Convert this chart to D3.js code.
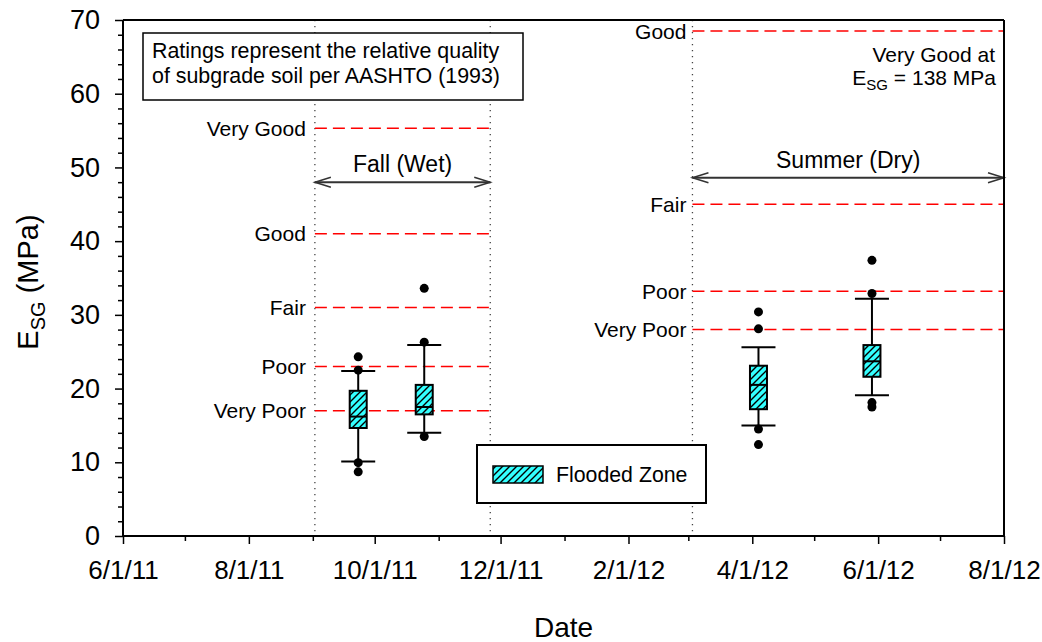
<!DOCTYPE html>
<html>
<head>
<meta charset="utf-8">
<script src="https://cdn.jsdelivr.net/npm/d3@7/dist/d3.min.js"></script>
<style>
  html, body { margin: 0; padding: 0; background: #fff; }
  svg { display: block; font-family: "Liberation Sans", Arial, sans-serif; }
</style>
</head>
<body>
<svg id="chart" width="1042" height="642"></svg>
<script>
// ---------------- data ----------------
const boxDates   = ["2011-09-23", "2011-10-25", "2012-04-04", "2012-05-29"];
const boxLow     = [10.1, 14.0, 15.0, 19.1];   // lower whisker
const boxQ1      = [14.65, 16.5, 17.2, 21.6];
const boxMedian  = [16.2, 17.5, 20.5, 23.7];
const boxQ3      = [19.7, 20.5, 23.1, 25.9];
const boxHigh    = [22.4, 25.9, 25.6, 32.2];   // upper whisker
const boxOutliers = [
  [24.3, 22.5, 9.95, 8.7],
  [33.6, 26.3, 13.5],
  [30.4, 28.1, 14.5, 12.4],
  [37.4, 32.9, 18.1, 17.5]
];

const seasonNames  = ["Fall (Wet)", "Summer (Dry)"];
const seasonStart  = ["2011-09-02", "2012-03-03"];
const seasonEnd    = ["2011-11-26", "2012-08-01"];
const seasonArrowY = [48.0, 48.6];

const fallRatings    = ["Very Good", "Good", "Fair", "Poor", "Very Poor"];
const fallValues     = [55.3, 41.0, 31.0, 23.0, 17.0];
const summerRatings  = ["Good", "Fair", "Poor", "Very Poor"];
const summerValues   = [68.5, 45.0, 33.2, 28.0];

const xDomain     = ["2011-06-01", "2012-08-01"];
const yMax        = 70;
const yMajorTicks = [0, 10, 20, 30, 40, 50, 60, 70];
const xTickLabels = ["6/1/11", "8/1/11", "10/1/11", "12/1/11", "2/1/12", "4/1/12", "6/1/12", "8/1/12"];

const noteLines   = ["Ratings represent the relative quality", "of subgrade soil per AASHTO (1993)"];
const legendLabel = "Flooded Zone";

// ---------------- layout ----------------
const W = 1042, H = 642;
const M = { left: 123, right: 38, top: 20, bottom: 106 };
const pw = W - M.left - M.right, ph = H - M.top - M.bottom;
const parse = d3.utcParse("%Y-%m-%d");
const FONT = "Liberation Sans, Arial, sans-serif";

const svg = d3.select("#chart");
const defs = svg.append("defs");
const pat = defs.append("pattern").attr("id", "hatch")
  .attr("patternUnits", "userSpaceOnUse").attr("width", 7).attr("height", 7);
pat.append("rect").attr("width", 7).attr("height", 7).attr("fill", "#33FFFF");
pat.append("path").attr("d", "M-1,1 l2,-2 M0,7 l7,-7 M6,8 l2,-2")
  .attr("stroke", "#000").attr("stroke-width", 1.4);

const g = svg.append("g").attr("transform", `translate(${M.left},${M.top})`);

const x = d3.scaleUtc().domain(xDomain.map(parse)).range([0, pw]);
const y = d3.scaleLinear().domain([0, yMax]).range([ph, 0]);

// ---------------- season dotted lines ----------------
const vlines = [seasonStart[0], seasonEnd[0], seasonStart[1]];
g.selectAll(".vl").data(vlines).join("line")
  .attr("x1", d => x(parse(d))).attr("x2", d => x(parse(d)))
  .attr("y1", 0).attr("y2", ph)
  .attr("stroke", "#444").attr("stroke-width", 1.3).attr("stroke-dasharray", "1.3,4.7");

// ---------------- rating lines ----------------
function ratings(names, vals, s, e, gap) {
  const x0 = x(parse(s)), x1 = x(parse(e));
  names.forEach((n, i) => {
    g.append("line").attr("x1", x0).attr("x2", x1)
      .attr("y1", y(vals[i])).attr("y2", y(vals[i]))
      .attr("stroke", "#FF0000").attr("stroke-width", 1.5).attr("stroke-dasharray", "12,6");
    g.append("text").attr("x", x0 - gap).attr("y", y(vals[i])).attr("dy", "0.36em")
      .attr("text-anchor", "end").attr("font-size", 21).attr("fill", "#000").text(n);
  });
}
ratings(fallRatings, fallValues, seasonStart[0], seasonEnd[0], 9);
ratings(summerRatings, summerValues, seasonStart[1], seasonEnd[1], 6);

// ---------------- season arrows ----------------
seasonNames.forEach((n, i) => {
  const x0 = x(parse(seasonStart[i])), x1 = x(parse(seasonEnd[i])), yy = y(seasonArrowY[i]);
  g.append("line").attr("x1", x0).attr("x2", x1).attr("y1", yy).attr("y2", yy)
    .attr("stroke", "#333").attr("stroke-width", 2);
  g.append("path").attr("d", `M${x0 + 16},${yy - 5} L${x0},${yy} L${x0 + 16},${yy + 5}`)
    .attr("fill", "none").attr("stroke", "#333").attr("stroke-width", 1.5);
  g.append("path").attr("d", `M${x1 - 16},${yy - 5} L${x1},${yy} L${x1 - 16},${yy + 5}`)
    .attr("fill", "none").attr("stroke", "#333").attr("stroke-width", 1.5);
  g.append("text").attr("x", (x0 + x1) / 2).attr("y", yy - 10)
    .attr("text-anchor", "middle").attr("font-size", 23).text(n);
});

// ---------------- box plots ----------------
const bw = 17, cw = 34;
boxDates.forEach((d, i) => {
  const cx = x(parse(d));
  g.append("line").attr("x1", cx).attr("x2", cx).attr("y1", y(boxLow[i])).attr("y2", y(boxHigh[i]))
    .attr("stroke", "#000").attr("stroke-width", 2);
  [boxLow[i], boxHigh[i]].forEach(v => {
    g.append("line").attr("x1", cx - cw / 2).attr("x2", cx + cw / 2).attr("y1", y(v)).attr("y2", y(v))
      .attr("stroke", "#000").attr("stroke-width", 2);
  });
  g.append("rect").attr("x", cx - bw / 2).attr("y", y(boxQ3[i]))
    .attr("width", bw).attr("height", y(boxQ1[i]) - y(boxQ3[i]))
    .attr("fill", "url(#hatch)").attr("stroke", "#000").attr("stroke-width", 2);
  g.append("line").attr("x1", cx - bw / 2).attr("x2", cx + bw / 2)
    .attr("y1", y(boxMedian[i])).attr("y2", y(boxMedian[i]))
    .attr("stroke", "#000").attr("stroke-width", 2);
  g.selectAll(null).data(boxOutliers[i]).join("circle")
    .attr("cx", cx).attr("cy", v => y(v)).attr("r", 4.5).attr("fill", "#000");
});

// ---------------- note box ----------------
g.append("rect").attr("x", 143 - M.left).attr("y", 33 - M.top).attr("width", 380).attr("height", 67)
  .attr("fill", "#fff").attr("stroke", "#000").attr("stroke-width", 1.5);
noteLines.forEach((t, i) => {
  g.append("text").attr("x", 152 - M.left).attr("y", 58 - M.top + i * 25)
    .attr("font-size", 21.4).text(t);
});

// ---------------- very good note ----------------
g.append("text").attr("text-anchor", "end").attr("font-size", 21)
  .attr("x", 995 - M.left).attr("y", 62 - M.top).text("Very Good at");
const l2 = g.append("text").attr("text-anchor", "end").attr("font-size", 21)
  .attr("x", 996 - M.left).attr("y", 85 - M.top);
l2.append("tspan").text("E");
l2.append("tspan").attr("font-size", 15).attr("dy", 5).text("SG");
l2.append("tspan").attr("dy", -5).text(" = 138 MPa");

// ---------------- legend ----------------
g.append("rect").attr("x", 477 - M.left).attr("y", 445 - M.top).attr("width", 229).attr("height", 58)
  .attr("fill", "#fff").attr("stroke", "#000").attr("stroke-width", 2);
g.append("rect").attr("x", 493 - M.left).attr("y", 466 - M.top).attr("width", 50).attr("height", 17)
  .attr("fill", "url(#hatch)").attr("stroke", "#000").attr("stroke-width", 1.5);
g.append("text").attr("x", 556 - M.left).attr("y", 482 - M.top).attr("font-size", 21.3).text(legendLabel);

// ---------------- axes ----------------
const yMinor = d3.range(0, yMax + 0.01, 2).filter(v => v % 10 !== 0);
g.append("g").call(d3.axisLeft(y).tickValues(yMinor).tickSize(5).tickFormat(""))
  .call(a => a.select(".domain").remove())
  .selectAll("line").attr("stroke-width", 1.5);
const ya = g.append("g").call(d3.axisLeft(y).tickValues(yMajorTicks).tickSize(8).tickPadding(15).tickFormat(d3.format("d")));
ya.select(".domain").attr("stroke-width", 2).attr("d", `M0,${ph}V0`);
ya.selectAll("line").attr("stroke-width", 1.5);
ya.selectAll("text").attr("font-size", 27).attr("fill", "#000").style("font-family", FONT);

const xMonths = d3.utcMonth.range(parse(xDomain[0]), d3.utcDay.offset(parse(xDomain[1]), 1));
const xMajor = xMonths.filter((d, i) => i % 2 === 0);
const xMinor = xMonths.filter((d, i) => i % 2 === 1);
g.append("g").attr("transform", `translate(0,${ph})`)
  .call(d3.axisBottom(x).tickValues(xMinor).tickSize(5).tickFormat(""))
  .call(a => a.select(".domain").remove())
  .selectAll("line").attr("stroke-width", 1.5);
const xa = g.append("g").attr("transform", `translate(0,${ph})`)
  .call(d3.axisBottom(x).tickValues(xMajor).tickSize(8).tickPadding(17)
    .tickFormat((d, i) => xTickLabels[i]));
xa.select(".domain").attr("stroke-width", 2).attr("d", `M0,0H${pw}`);
xa.selectAll("line").attr("stroke-width", 1.5);
xa.selectAll("text").attr("font-size", 26).attr("fill", "#000").style("font-family", FONT);

// frame top & right
g.append("line").attr("x1", 0).attr("x2", pw).attr("y1", 0).attr("y2", 0).attr("stroke", "#000").attr("stroke-width", 2);
g.append("line").attr("x1", pw).attr("x2", pw).attr("y1", 0).attr("y2", ph).attr("stroke", "#000").attr("stroke-width", 2);

// axis titles
svg.append("text").attr("x", M.left + pw / 2).attr("y", 637).attr("text-anchor", "middle")
  .attr("font-size", 28).text("Date");
const yt = svg.append("text").attr("transform", `translate(38,${M.top + ph / 2 + 4}) rotate(-90)`)
  .attr("text-anchor", "middle").attr("font-size", 29);
yt.append("tspan").text("E");
yt.append("tspan").attr("font-size", 20).attr("dy", 7).text("SG");
yt.append("tspan").attr("dy", -7).text(" (MPa)");
</script>
</body>
</html>
